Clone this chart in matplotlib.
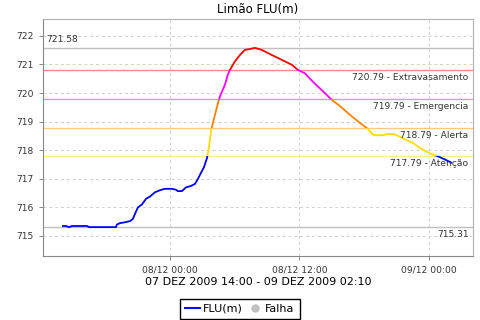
import matplotlib

matplotlib.use("Agg")
import matplotlib.dates as mdates
import matplotlib.pyplot as plt
import pandas as pd
from matplotlib.lines import Line2D
from matplotlib.patches import Rectangle

plt.rcParams["font.family"] = "DejaVu Sans"

# Data (FLU level in m)
times = [
    "2009-12-07 14:00", "2009-12-07 14:22", "2009-12-07 14:39", "2009-12-07 14:55",
    "2009-12-07 16:19", "2009-12-07 16:30", "2009-12-07 19:00", "2009-12-07 19:05",
    "2009-12-07 19:22", "2009-12-07 19:50", "2009-12-07 20:18", "2009-12-07 20:34",
    "2009-12-07 20:51", "2009-12-07 21:02", "2009-12-07 21:24", "2009-12-07 21:47",
    "2009-12-07 22:09", "2009-12-07 22:37", "2009-12-07 23:04", "2009-12-07 23:32",
    "2009-12-08 00:11", "2009-12-08 00:33", "2009-12-08 00:44", "2009-12-08 01:07",
    "2009-12-08 01:29", "2009-12-08 01:57", "2009-12-08 02:19", "2009-12-08 02:36",
    "2009-12-08 02:52", "2009-12-08 03:09", "2009-12-08 03:26", "2009-12-08 03:37",
    "2009-12-08 03:48", "2009-12-08 04:05", "2009-12-08 04:27", "2009-12-08 04:38",
    "2009-12-08 05:06", "2009-12-08 05:22", "2009-12-08 05:34", "2009-12-08 06:01",
    "2009-12-08 06:29", "2009-12-08 06:57", "2009-12-08 07:25", "2009-12-08 07:53",
    "2009-12-08 08:31", "2009-12-08 09:27", "2009-12-08 10:23", "2009-12-08 11:18",
    "2009-12-08 11:52", "2009-12-08 12:31", "2009-12-08 13:15", "2009-12-08 14:05",
    "2009-12-08 15:01", "2009-12-08 15:45", "2009-12-08 16:41", "2009-12-08 17:36",
    "2009-12-08 18:15", "2009-12-08 18:48", "2009-12-08 19:16", "2009-12-08 19:44",
    "2009-12-08 20:23", "2009-12-08 20:51", "2009-12-08 21:19", "2009-12-08 21:58",
    "2009-12-08 22:31", "2009-12-08 23:10", "2009-12-08 23:49", "2009-12-09 00:22",
    "2009-12-09 00:50", "2009-12-09 01:29", "2009-12-09 02:10",
]
level = [
    715.35, 715.35, 715.31, 715.35,
    715.35, 715.31, 715.31, 715.40,
    715.45, 715.48, 715.52, 715.60,
    715.85, 716.00, 716.10, 716.30,
    716.38, 716.53, 716.60, 716.65,
    716.65, 716.62, 716.57, 716.57,
    716.70, 716.75, 716.82, 717.00,
    717.20, 717.40, 717.72, 718.10,
    718.65, 719.10, 719.64, 719.88,
    720.29, 720.64, 720.81, 721.10,
    721.33, 721.51, 721.54, 721.58,
    721.51, 721.33, 721.16, 720.99,
    720.81, 720.69, 720.40, 720.10,
    719.76, 719.55, 719.24, 718.96,
    718.78, 718.55, 718.52, 718.53,
    718.57, 718.55, 718.47, 718.35,
    718.26, 718.08, 717.95, 717.85,
    717.79, 717.68, 717.55,
]

# alert levels
thresholds = [717.79, 718.79, 719.79, 720.79]
threshold_names = ["Atenção", "Alerta", "Emergencia", "Extravasamento"]
threshold_colors = ["#ffee88", "#ffc880", "#ff88ff", "#ff8888"]
band_colors = ["#0000ff", "#ffdd00", "#ff8000", "#ff00ff", "#ff0000"]

max_level = 721.58
min_level = 715.31

tick_times = ["2009-12-08 00:00", "2009-12-08 12:00", "2009-12-09 00:00"]
y_ticks = [715, 716, 717, 718, 719, 720, 721, 722]

t = pd.to_datetime(times)
t_ticks = pd.to_datetime(tick_times)
x_lo = pd.Timestamp("2009-12-07 12:14")
x_hi = pd.Timestamp("2009-12-09 04:05")
y_lo, y_hi = 714.30, 722.59

fig = plt.figure(figsize=(4.8, 3.2), dpi=100)
ax = fig.add_axes([0.0896, 0.2, 0.8954, 0.7406])

ax.set_xlim(x_lo, x_hi)
ax.set_ylim(y_lo, y_hi)
ax.grid(True, color="#d0d0d0", linestyle=(0, (3, 3)), linewidth=0.7)
ax.set_axisbelow(True)

# min / max reference lines
ax.axhline(max_level, color="#c0c0c0", lw=1)
ax.axhline(min_level, color="#c0c0c0", lw=1)
for th, c in zip(thresholds, threshold_colors):
    ax.axhline(th, color=c, lw=1)

fs = 6.6
ax.text(0.007, max_level + 0.12, "%.2f" % max_level, transform=ax.get_yaxis_transform(),
        fontsize=fs, ha="left", va="bottom", color="#333333")
for th, name in zip(thresholds, threshold_names):
    ax.text(0.99, th - 0.1, "%.2f - %s" % (th, name), transform=ax.get_yaxis_transform(),
            fontsize=fs, ha="right", va="top", color="#333333")
ax.text(0.99, min_level - 0.1, "%.2f" % min_level, transform=ax.get_yaxis_transform(),
        fontsize=fs, ha="right", va="top", color="#333333")

# line coloured by level band (clipped copies)
edges = [y_lo - 10] + thresholds + [y_hi + 10]
for lo, hi, c in zip(edges[:-1], edges[1:], band_colors):
    (ln,) = ax.plot(t, level, color=c, lw=1.3, solid_capstyle="butt")
    x0 = mdates.date2num(x_lo)
    clip = Rectangle((x0, lo), mdates.date2num(x_hi) - x0, hi - lo, transform=ax.transData)
    ln.set_clip_path(clip)

ax.set_xticks(t_ticks)
ax.xaxis.set_major_formatter(mdates.DateFormatter("%d/%m %H:%M"))
ax.set_yticks(y_ticks)
ax.tick_params(labelsize=fs, colors="#333333", length=3, width=0.7)
ax.tick_params(color="#888888")

for side in ["left", "bottom"]:
    ax.spines[side].set_color("#888888")
for side in ["top", "right"]:
    ax.spines[side].set_color("#b0b0b0")

ax.set_title("Limão FLU(m)", fontsize=8.5, pad=4)
ax.set_xlabel("07 DEZ 2009 14:00 - 09 DEZ 2009 02:10", fontsize=8, labelpad=2)

handles = [
    Line2D([], [], color="#0000ff", lw=1.4),
    Line2D([], [], color="#c0c0c0", marker="o", ls="", markersize=5),
]
fig.legend(handles, ["FLU(m)", "Falha"], loc="lower center", bbox_to_anchor=(0.5, 0.0),
           ncol=2, fontsize=8, frameon=True, fancybox=False, edgecolor="black",
           framealpha=1, handlelength=1.3, handletextpad=0.3, columnspacing=0.4,
           borderpad=0.45, borderaxespad=0.1)

fig.savefig("out.png", dpi=100)
